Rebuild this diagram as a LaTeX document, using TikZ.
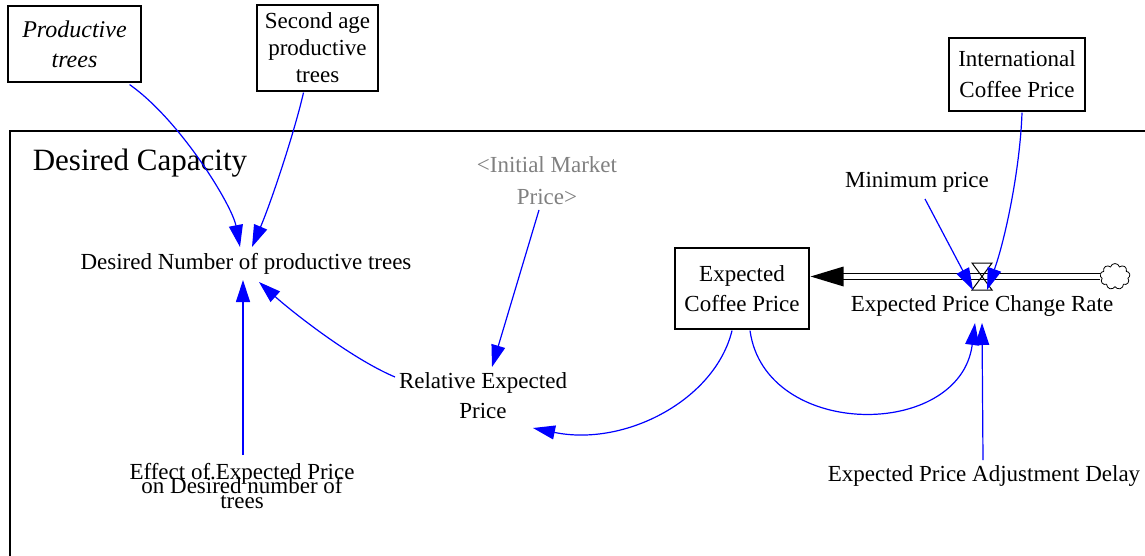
\documentclass[tikz,border=0pt]{standalone}
\usepackage{fontspec}
\setmainfont{Liberation Serif}
\usetikzlibrary{arrows.meta,calc,shapes.symbols}
\definecolor{linkblue}{RGB}{0,0,255}
\definecolor{shadowgray}{RGB}{128,128,128}

\begin{document}
% let closely set lines overlap instead of being pushed apart
\lineskiplimit=-100pt\relax
\begin{tikzpicture}[x=1pt,y=-1pt,
  lbl/.style={align=center,inner sep=0pt,font=\fontsize{23}{30}\selectfont},
  stockbox/.style={lbl,draw,line width=1.2pt},
  link/.style={draw=linkblue,line width=1.2pt,-{Triangle[length=22pt,width=14pt]}},
  pipe/.style={line width=1.3pt,double distance=5.2pt}
]
\useasboundingbox (0,0) rectangle (1145,556);

% sector boundary
\draw[line width=1.3pt] (1145,131) -- (10,131) -- (10,556);
\node[lbl,font=\fontsize{31}{36}\selectfont] (sector) at (140,163) {Desired Capacity};

% outside variables
\node[stockbox,minimum width=133pt,minimum height=76pt,font=\fontsize{24}{30}\selectfont\itshape] (pt) at (74.5,44) {Productive\\trees};
\node[stockbox,minimum width=121pt,minimum height=86pt,font=\fontsize{23}{27}\selectfont] (sapt) at (317.5,48) {Second age\\productive\\trees};
\node[stockbox,minimum width=136pt,minimum height=73pt,font=\fontsize{23}{31}\selectfont] (icp) at (1017,74.5) {International\\Coffee Price};

% variables inside the sector
\node[lbl] (dnp) at (246,264) {Desired Number of productive trees};
\node[lbl,text=shadowgray,font=\fontsize{23}{32}\selectfont] (imp) at (547,181) {<Initial Market\\Price>};
\node[lbl] (minp) at (917,182) {Minimum price};
\node[lbl] (rel) at (483,396) {Relative Expected\\Price};
\node[lbl,font=\fontsize{23}{14.5}\selectfont] (eff) at (242,486) {Effect of.Expected Price\\on Desired number of\\trees};
\node[lbl] (delay) at (984,476) {Expected Price Adjustment Delay};

% stock, flow and source cloud
\node[stockbox,minimum width=134pt,minimum height=81pt] (ecp) at (742,288.5) {Expected\\Coffee Price};
\node[cloud,draw,cloud puffs=9,aspect=1.2,minimum width=30pt,minimum height=26pt,inner sep=0pt,line width=0.8pt] (cl) at (1115,276.5) {};
\coordinate (inlet) at (cl.west -| ecp.east);
\draw[pipe] (cl.west) -- ($(inlet)+(33,0)$);
\fill ($(inlet)+(1,0)$) -- ++(33,-10) -- ++(0,20) -- cycle;
\coordinate (valve) at (982,276.5);
\draw[line width=1pt] ($(valve)+(-10,-13.5)$) -- ++(20,0) -- ++(-20,27) -- ++(20,0) -- cycle;
\node[lbl] (rate) at (982,306) {Expected Price Change Rate};

% causal links
\draw[link] ($(pt.south east)+(-12,2)$) .. controls (180,120) and (232,205) .. ($(dnp)+(-6,-17)$);
\draw[link] ($(sapt.south)+(-14,1)$) .. controls (295,130) and (272,200) .. ($(dnp)+(6,-17)$);
\draw[link] ($(eff)+(1,-31)$) -- ($(dnp)+(-3,16)$);
\draw[link] ($(rel)+(-88,-19)$) .. controls (350,358) and (290,310) .. ($(dnp)+(13,18)$);
\draw[link] ($(imp)+(-8,29)$) -- ($(rel)+(9,-29)$);
\draw[link] ($(ecp.south)+(-10,1)$) .. controls (715,400) and (625,447) .. ($(rel)+(50,32)$);
\draw[link] ($(ecp.south)+(8,1)$) .. controls (765,440) and (960,440) .. ($(rate)+(-7,17)$);
\draw[link] ($(minp)+(8,17)$) -- ($(valve)+(-9,13.5)$);
\draw[link] ($(icp.south)+(5,1)$) .. controls (1020,170) and (1005,240) .. ($(valve)+(5,13.5)$);
\draw[link] ($(delay)+(-1,-16)$) -- ($(rate)+(0,17)$);
\end{tikzpicture}
\end{document}
